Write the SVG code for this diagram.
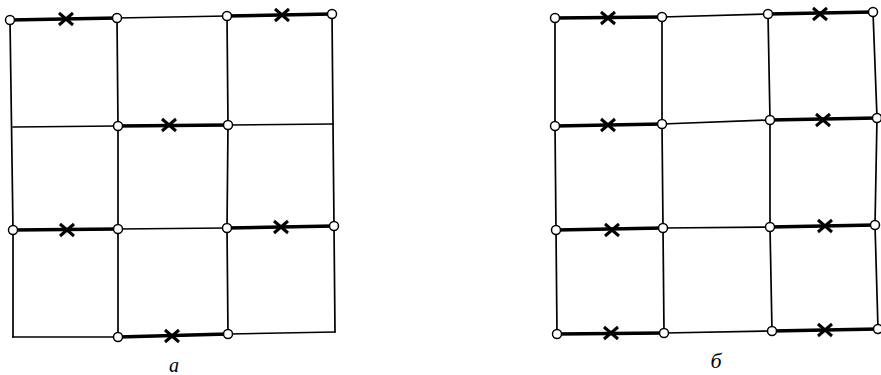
<svg xmlns="http://www.w3.org/2000/svg" width="881" height="375" viewBox="0 0 881 375">
<style>
.thin{stroke:#000;stroke-width:1.7;fill:none;stroke-linecap:round}
.thick{stroke:#000;stroke-width:3.4;fill:none;stroke-linecap:round}
.node{fill:#fff;stroke:#000;stroke-width:1.5}
.x{stroke:#000;stroke-width:3;fill:none}
.lbl{font-family:"Liberation Serif","DejaVu Serif",serif;font-style:italic;fill:#000}
</style>
<defs>
<path id="xm" class="x" d="M-7,-6 L7,6 M-7,6 L7,-6"/>
</defs>
<rect width="881" height="375" fill="#fff"/>
<g id="connectors">
<!-- grid a -->
<path class="thin" d="M10,20 L13,230 L13,337 M117,18 L118,126 L118,229 L118,337 M227,16 L228,125 L227,228 L228,334 M332,14 L333,124 L334,226 L335,332"/>
<path class="thin" d="M117,18 L227,16 M13,127 L118,126 M228,125 L333,124 M118,229 L227,228 M13,337 L118,337 M228,334 L335,332"/>
<path class="thick" d="M10,20 L117,18 M227,16 L332,14 M118,126 L228,125 M13,230 L118,229 M227,228 L334,226 M118,337 L228,334"/>
<!-- grid b -->
<path class="thin" d="M555,18 L555,126 L556,230 L557,334 M662,17 L662,124 L663,228 L664,333 M768,14 L770,120 L770,227 L772,331 M873,12 L877,118 L875,225 L878,329"/>
<path class="thin" d="M662,17 L768,14 M662,124 L770,120 M663,228 L770,227 M664,333 L772,331"/>
<path class="thick" d="M555,18 L662,17 M768,14 L873,12 M555,126 L662,124 M770,120 L877,118 M556,230 L663,228 M770,227 L875,225 M557,334 L664,333 M772,331 L878,329"/>
</g>
<g id="marks-a">
<use href="#xm" x="66" y="19"/>
<use href="#xm" x="282" y="15"/>
<use href="#xm" x="169" y="125"/>
<use href="#xm" x="67" y="230"/>
<use href="#xm" x="281" y="227"/>
<use href="#xm" x="172" y="336"/>
</g>
<g id="marks-b">
<use href="#xm" x="608" y="18"/>
<use href="#xm" x="820" y="14"/>
<use href="#xm" x="608" y="125"/>
<use href="#xm" x="823" y="120"/>
<use href="#xm" x="612" y="230"/>
<use href="#xm" x="825" y="226"/>
<use href="#xm" x="611" y="333"/>
<use href="#xm" x="825" y="330"/>
</g>
<g id="nodes-a">
<circle class="node" cx="10" cy="20" r="4.5"/>
<circle class="node" cx="117" cy="18" r="4.5"/>
<circle class="node" cx="227" cy="16" r="4.5"/>
<circle class="node" cx="332" cy="14" r="4.5"/>
<circle class="node" cx="118" cy="126" r="4.5"/>
<circle class="node" cx="228" cy="125" r="4.5"/>
<circle class="node" cx="13" cy="230" r="4.5"/>
<circle class="node" cx="118" cy="229" r="4.5"/>
<circle class="node" cx="227" cy="228" r="4.5"/>
<circle class="node" cx="334" cy="226" r="4.5"/>
<circle class="node" cx="118" cy="337" r="4.5"/>
<circle class="node" cx="228" cy="334" r="4.5"/>
</g>
<g id="nodes-b">
<circle class="node" cx="555" cy="18" r="4.5"/>
<circle class="node" cx="662" cy="17" r="4.5"/>
<circle class="node" cx="768" cy="14" r="4.5"/>
<circle class="node" cx="873" cy="12" r="4.5"/>
<circle class="node" cx="555" cy="126" r="4.5"/>
<circle class="node" cx="662" cy="124" r="4.5"/>
<circle class="node" cx="770" cy="120" r="4.5"/>
<circle class="node" cx="877" cy="118" r="4.5"/>
<circle class="node" cx="556" cy="230" r="4.5"/>
<circle class="node" cx="663" cy="228" r="4.5"/>
<circle class="node" cx="770" cy="227" r="4.5"/>
<circle class="node" cx="875" cy="225" r="4.5"/>
<circle class="node" cx="557" cy="334" r="4.5"/>
<circle class="node" cx="664" cy="333" r="4.5"/>
<circle class="node" cx="772" cy="331" r="4.5"/>
<circle class="node" cx="878" cy="329" r="4.5"/>
</g>
<g id="labels">
<text class="lbl" x="174" y="372" font-size="20" text-anchor="middle">а</text>
<text class="lbl" x="716" y="368" font-size="22" text-anchor="middle">б</text>
</g>
</svg>
